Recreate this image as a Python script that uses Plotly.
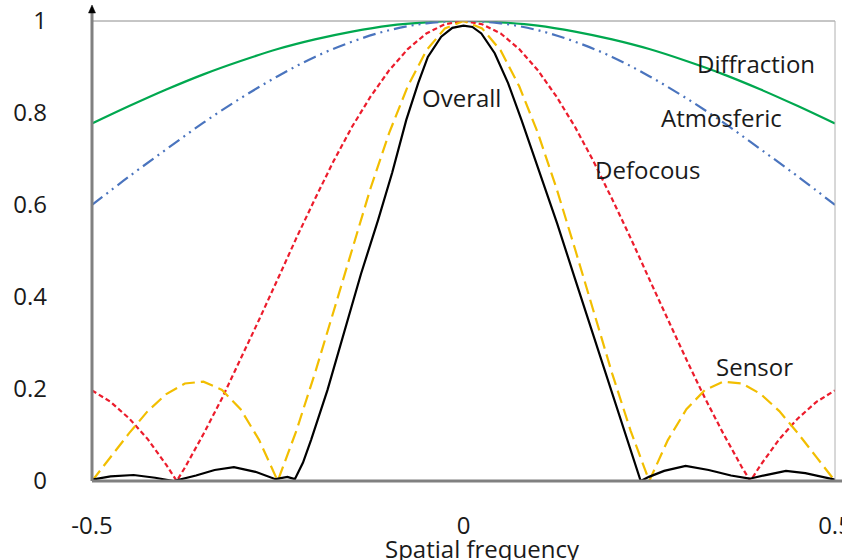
import plotly.graph_objects as go

# ---- data -------------------------------------------------------------
# Diffraction and atmospheric MTF, sampled every 0.05
x_smooth = [-0.5, -0.45, -0.4, -0.35, -0.3, -0.25, -0.2, -0.15, -0.1, -0.05, 0.0,
            0.05, 0.1, 0.15, 0.2, 0.25, 0.3, 0.35, 0.4, 0.45, 0.5]
diffraction = [0.777, 0.815, 0.851, 0.884, 0.913, 0.939, 0.960, 0.977, 0.990, 0.997, 1.000,
               0.997, 0.990, 0.977, 0.960, 0.939, 0.913, 0.884, 0.851, 0.815, 0.777]
atmospheric = [0.600, 0.662, 0.721, 0.779, 0.832, 0.880, 0.922, 0.955, 0.980, 0.995, 1.000,
               0.995, 0.980, 0.955, 0.922, 0.880, 0.832, 0.779, 0.721, 0.662, 0.600]

# Defocus MTF
x_defocus = [-0.5, -0.475, -0.45, -0.425, -0.4, -0.386, -0.375, -0.35, -0.325, -0.3, -0.275,
             -0.25, -0.225, -0.2, -0.175, -0.15, -0.125, -0.1, -0.075, -0.05, -0.025, 0.0,
             0.025, 0.05, 0.075, 0.1, 0.125, 0.15, 0.175, 0.2, 0.225, 0.25, 0.275, 0.3,
             0.325, 0.35, 0.375, 0.386, 0.4, 0.425, 0.45, 0.475, 0.5]
defocus = [0.197, 0.172, 0.136, 0.091, 0.035, 0.000, 0.029, 0.102, 0.180, 0.264, 0.351,
           0.439, 0.528, 0.613, 0.695, 0.770, 0.836, 0.893, 0.939, 0.973, 0.993, 1.000,
           0.993, 0.973, 0.939, 0.893, 0.836, 0.770, 0.695, 0.613, 0.528, 0.439, 0.351, 0.264,
           0.180, 0.102, 0.029, 0.000, 0.035, 0.091, 0.136, 0.172, 0.197]

# Sensor MTF
x_sensor = [-0.5, -0.475, -0.45, -0.425, -0.4, -0.375, -0.35, -0.325, -0.3, -0.275,
            -0.25, -0.225, -0.2, -0.175, -0.15, -0.125, -0.1, -0.075, -0.05, -0.025, 0.0,
            0.025, 0.05, 0.075, 0.1, 0.125, 0.15, 0.175, 0.2, 0.225, 0.25,
            0.275, 0.3, 0.325, 0.35, 0.375, 0.4, 0.425, 0.45, 0.475, 0.5]
sensor = [0.000, 0.052, 0.104, 0.152, 0.189, 0.212, 0.216, 0.198, 0.156, 0.089,
          0.000, 0.109, 0.234, 0.368, 0.505, 0.637, 0.757, 0.858, 0.936, 0.984, 1.000,
          0.984, 0.936, 0.858, 0.757, 0.637, 0.505, 0.368, 0.234, 0.109, 0.000,
          0.089, 0.156, 0.198, 0.216, 0.212, 0.189, 0.152, 0.104, 0.052, 0.000]

# Overall system MTF
x_overall = [-0.5, -0.475, -0.444, -0.415, -0.39, -0.36, -0.335, -0.309, -0.28, -0.253,
             -0.237, -0.227, -0.216, -0.205, -0.183, -0.16, -0.138, -0.115, -0.096, -0.077,
             -0.061, -0.048, -0.03, -0.015, 0.0, 0.012, 0.024, 0.042, 0.06, 0.078, 0.1,
             0.126, 0.15, 0.175, 0.2, 0.22, 0.2385, 0.2496, 0.27, 0.299, 0.33, 0.36,
             0.385, 0.41, 0.434, 0.46, 0.485, 0.5]
overall = [0.003, 0.010, 0.013, 0.007, 0.000, 0.012, 0.024, 0.030, 0.020, 0.004,
           0.009, 0.004, 0.040, 0.090, 0.198, 0.328, 0.450, 0.567, 0.670, 0.785,
           0.865, 0.922, 0.966, 0.985, 0.990, 0.987, 0.973, 0.930, 0.865, 0.785, 0.680,
           0.560, 0.440, 0.315, 0.190, 0.090, 0.000, 0.009, 0.022, 0.033, 0.024, 0.012,
           0.005, 0.014, 0.022, 0.017, 0.008, 0.003]

x_ticks = [-0.5, 0.0, 0.5]
x_tick_labels = ["-0.5", "0", "0.5"]
y_ticks = [0, 0.2, 0.4, 0.6, 0.8, 1.0]
y_tick_labels = ["0", "0.2", "0.4", "0.6", "0.8", "1"]

# ---- figure -----------------------------------------------------------
FONT = "Open Sans"
TXT = "#1a1a1a"

fig = go.Figure()
fig.add_trace(go.Scatter(x=x_smooth, y=diffraction, mode="lines", line_shape="spline",
                         line=dict(color="#00A84F", width=2.2), name="Diffraction"))
fig.add_trace(go.Scatter(x=x_smooth, y=atmospheric, mode="lines", line_shape="spline",
                         line=dict(color="#4A74BE", width=2.2,
                                   dash="13px,5px,2px,5px,2px,5px"), name="Atmosferic"))
fig.add_trace(go.Scatter(x=x_defocus, y=defocus, mode="lines",
                         line=dict(color="#EC1C2C", width=2.2, dash="5px,3px"),
                         name="Defocous"))
fig.add_trace(go.Scatter(x=x_sensor, y=sensor, mode="lines",
                         line=dict(color="#F2BE00", width=2.2, dash="13px,6px"),
                         name="Sensor"))
fig.add_trace(go.Scatter(x=x_overall, y=overall, mode="lines",
                         line=dict(color="#000000", width=2.2), name="Overall"))

L, R, T, B = 92, 835, 21, 481.5
W, H = 842, 560


def px(xp):
    return (xp - L) / (R - L)


def py(yp):
    return (B - yp) / (B - T)


labels = [("Diffraction", 756, 64), ("Atmosferic", 721, 118), ("Defocous", 648, 170),
          ("Overall", 461, 98), ("Sensor", 754, 367)]
annotations = [dict(text=t, x=px(xp), y=py(yp), xref="paper", yref="paper",
                    showarrow=False, xanchor="center", yanchor="middle",
                    font=dict(family=FONT, size=24, color=TXT))
               for t, xp, yp in labels]
annotations.append(dict(text="Spatial frequency", x=px(482), y=py(549), xref="paper",
                        yref="paper", showarrow=False, xanchor="center",
                        yanchor="middle", font=dict(family=FONT, size=24, color=TXT)))

shapes = [
    # plot frame (top and right)
    dict(type="line", xref="paper", yref="paper", x0=0, x1=1, y0=1, y1=1,
         line=dict(color="#8c8c8c", width=1)),
    dict(type="line", xref="paper", yref="paper", x0=1, x1=1, y0=0, y1=1,
         line=dict(color="#b0b0b0", width=1)),
    # left axis with arrow
    dict(type="line", xref="paper", yref="paper", x0=0, x1=0, y0=0, y1=py(12),
         line=dict(color="#808080", width=3)),
    dict(type="path", xref="paper", yref="paper",
         path=f"M {px(88.5)} {py(13)} L {px(95.5)} {py(13)} L {px(92)} {py(5)} Z",
         fillcolor="#000000", line=dict(color="#000000", width=0.5)),
    # bottom axis
    dict(type="line", xref="paper", yref="paper", x0=0, x1=px(842), y0=0, y1=0,
         line=dict(color="#808080", width=3)),
]

fig.update_layout(
    width=W, height=H,
    margin=dict(l=L, r=W - R, t=T, b=H - B, pad=0, autoexpand=False),
    paper_bgcolor="white", plot_bgcolor="white",
    showlegend=False,
    font=dict(family=FONT, size=24, color=TXT),
    annotations=annotations,
    shapes=shapes,
    xaxis=dict(range=[-0.5, 0.5], tickvals=x_ticks, ticktext=x_tick_labels,
               showgrid=False, zeroline=False, showline=False, ticks="",
               ticklabelstandoff=28, ticklabeloverflow="allow", automargin=False,
               tickfont=dict(size=24, color=TXT)),
    yaxis=dict(range=[0, 1], tickvals=y_ticks, ticktext=y_tick_labels,
               showgrid=False, zeroline=False, showline=False, ticks="",
               ticklabelstandoff=44, automargin=False,
               tickfont=dict(size=24, color=TXT)),
)

fig.write_html("out.html")
